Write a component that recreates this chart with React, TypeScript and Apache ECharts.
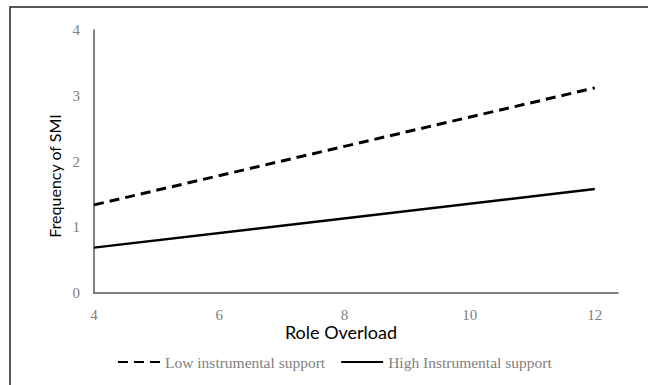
import React, { useEffect, useRef } from "react";
import * as echarts from "echarts";

const xValues = [4, 12];
const lowSupport = [1.34, 3.12];
const highSupport = [0.69, 1.58];
const xTicks = [4, 6, 8, 10, 12];
const seriesNames = ["Low instrumental support", "High Instrumental support"];

export default function App() {
  const ref = useRef<HTMLDivElement>(null);
  useEffect(() => {
    if (!ref.current) return;
    const chart = echarts.init(ref.current, null, { renderer: "svg" });
    const serif = "'Liberation Serif', 'Times New Roman', serif";
    chart.setOption({
      animation: false,
      backgroundColor: "#ffffff",
      grid: { left: 94, right: 30, top: 30, bottom: 92 },
      xAxis: {
        type: "value",
        min: 4,
        max: 12.37,
        interval: 2,
        axisLine: { show: true, lineStyle: { color: "#595959", width: 1.5 } },
        axisTick: { show: false },
        splitLine: { show: false },
        axisLabel: {
          color: "#808080",
          fontFamily: serif,
          fontSize: 15,
          margin: 14,
          showMaxLabel: false,
          formatter: (v: number) => (xTicks.includes(v) ? String(v) : ""),
        },
      },
      yAxis: {
        type: "value",
        min: 0,
        max: 4,
        interval: 1,
        axisLine: { show: true, lineStyle: { color: "#595959", width: 1.5 } },
        axisTick: { show: false },
        splitLine: { show: false },
        axisLabel: { color: "#808080", fontFamily: serif, fontSize: 15, margin: 14 },
      },
      legend: {
        left: 117,
        top: 354,
        padding: 0,
        itemWidth: 42,
        itemHeight: 14,
        itemGap: 15,
        itemStyle: { opacity: 0 },
        textStyle: { color: "#808080", fontFamily: serif, fontSize: 15.5 },
        data: seriesNames,
      },
      series: [
        {
          name: seriesNames[0],
          type: "line",
          data: xValues.map((x, i) => [x, lowSupport[i]]),
          symbol: "none",
          color: "#000",
          lineStyle: { color: "#000", width: 3, type: [10, 6] },
        },
        {
          name: seriesNames[1],
          type: "line",
          data: xValues.map((x, i) => [x, highSupport[i]]),
          symbol: "none",
          color: "#000",
          lineStyle: { color: "#000", width: 2.5, type: "solid" },
        },
      ],
      graphic: [
        {
          type: "rect",
          shape: { x: 10, y: 7, width: 700, height: 500 },
          style: { fill: "none", stroke: "#222", lineWidth: 1.5 },
          silent: true,
        },
        {
          type: "text",
          x: 341,
          y: 332,
          style: {
            text: "Role Overload",
            fill: "#000",
            font: "18px Lato, 'Open Sans', sans-serif",
            textAlign: "center",
            textVerticalAlign: "middle",
          },
        },
        {
          type: "text",
          x: 54,
          y: 176,
          rotation: Math.PI / 2,
          style: {
            text: "Frequency of SMI",
            fill: "#000",
            font: "16px Lato, 'Open Sans', sans-serif",
            textAlign: "center",
            textVerticalAlign: "middle",
          },
        },
      ],
    });
    return () => chart.dispose();
  }, []);
  return <div ref={ref} style={{ width: 648, height: 385, position: "absolute", left: 0, top: 0 }} />;
}
